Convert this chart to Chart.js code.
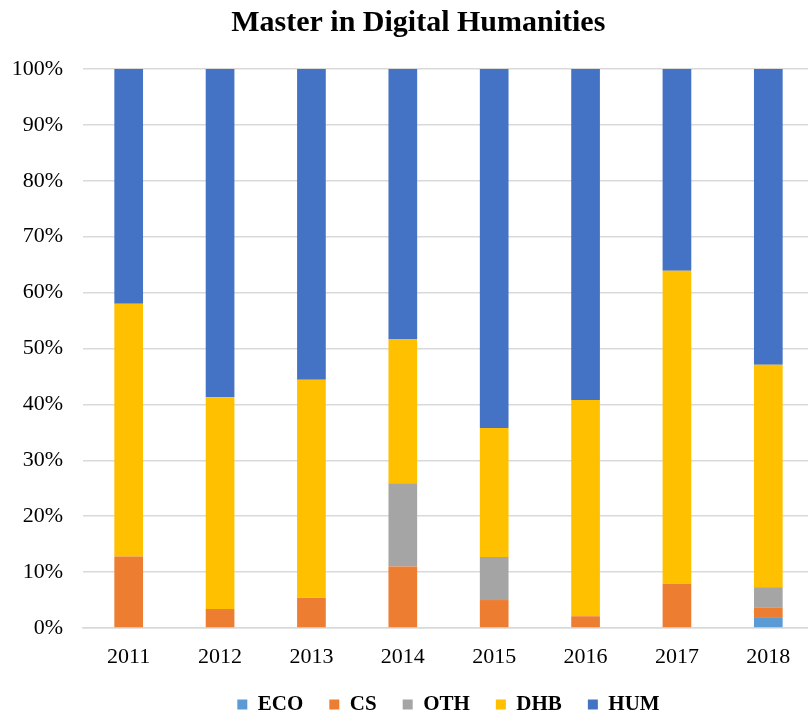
<!DOCTYPE html>
<html>
<head>
<meta charset="utf-8">
<title>Master in Digital Humanities</title>
<script src="https://cdn.jsdelivr.net/npm/chart.js@4.4.1/dist/chart.umd.min.js"></script>
<style>
	html, body { margin: 0; padding: 0; background: #fff; overflow: hidden; }
	#wrap { width: 808px; height: 718px; overflow: hidden; }
</style>
</head>
<body>
<div id="wrap"><canvas id="chart-area" width="840" height="718"></canvas></div>
<script>
// years on the x axis
var years = ['2011', '2012', '2013', '2014', '2015', '2016', '2017', '2018'];

// share of students per background, in percent
var eco = [0, 0, 0, 0, 0, 0, 0, 1.8];
var cs  = [12.8, 3.4, 5.4, 11.0, 5.0, 2.1, 7.9, 1.9];
var oth = [0, 0, 0, 14.9, 7.7, 0, 0, 3.6];
var dhb = [45.2, 37.9, 39.0, 25.8, 23.1, 38.7, 56.0, 39.8];
var hum = [42.0, 58.7, 55.6, 48.3, 64.2, 59.2, 36.1, 52.9];

var yTicks = [0, 10, 20, 30, 40, 50, 60, 70, 80, 90, 100];

var serif = "'Liberation Serif', 'Times New Roman', serif";

function serie(label, data, color)
{
	return {
		label: label,
		data: data,
		backgroundColor: color,
		borderWidth: 0,
		categoryPercentage: 1,
		barPercentage: 0.314
	};
}

var config = {
	type: 'bar',
	data: {
		labels: years,
		datasets: [
			serie('ECO', eco, '#5B9BD5'),
			serie('CS', cs, '#ED7D31'),
			serie('OTH', oth, '#A5A5A5'),
			serie('DHB', dhb, '#FFC000'),
			serie('HUM', hum, '#4472C4')
		]
	},
	options: {
		responsive: false,
		animation: false,
		layout: { padding: { left: 0, right: 26, top: 0, bottom: -7 } },
		plugins: {
			title: {
				display: true,
				// leading spaces push the title a little right, as in the original
				text: '   Master in Digital Humanities',
				color: '#000',
				font: { family: serif, size: 30, weight: 'bold' },
				padding: { top: 5, bottom: 28 }
			},
			legend: {
				position: 'bottom',
				fullSize: false,
				labels: {
					color: '#000',
					font: { family: serif, size: 21, weight: 'bold' },
					boxWidth: 10,
					boxHeight: 10,
					padding: 26
				}
			},
			tooltip: { enabled: false }
		},
		scales: {
			x: {
				stacked: true,
				afterFit: function (scale) { scale.height = 40; },
				grid: { display: false, drawTicks: false },
				border: { display: true, color: '#d9d9d9', width: 1.5 },
				ticks: {
					color: '#000',
					font: { family: serif, size: 22, lineHeight: 1.1 },
					padding: 17
				}
			},
			y: {
				stacked: true,
				min: 0,
				max: 100,
				afterFit: function (scale) { scale.width = 83; },
				afterBuildTicks: function (scale) {
					scale.ticks = yTicks.map(function (v) { return { value: v }; });
				},
				grid: { color: '#d9d9d9', lineWidth: 1.5, drawTicks: false },
				border: { display: false },
				ticks: {
					color: '#000',
					font: { family: serif, size: 22 },
					padding: 20,
					callback: function (v) { return v + '%'; }
				}
			}
		}
	}
};

var ctx = document.getElementById('chart-area');
var myChart = new Chart(ctx, config);
</script>
</body>
</html>
